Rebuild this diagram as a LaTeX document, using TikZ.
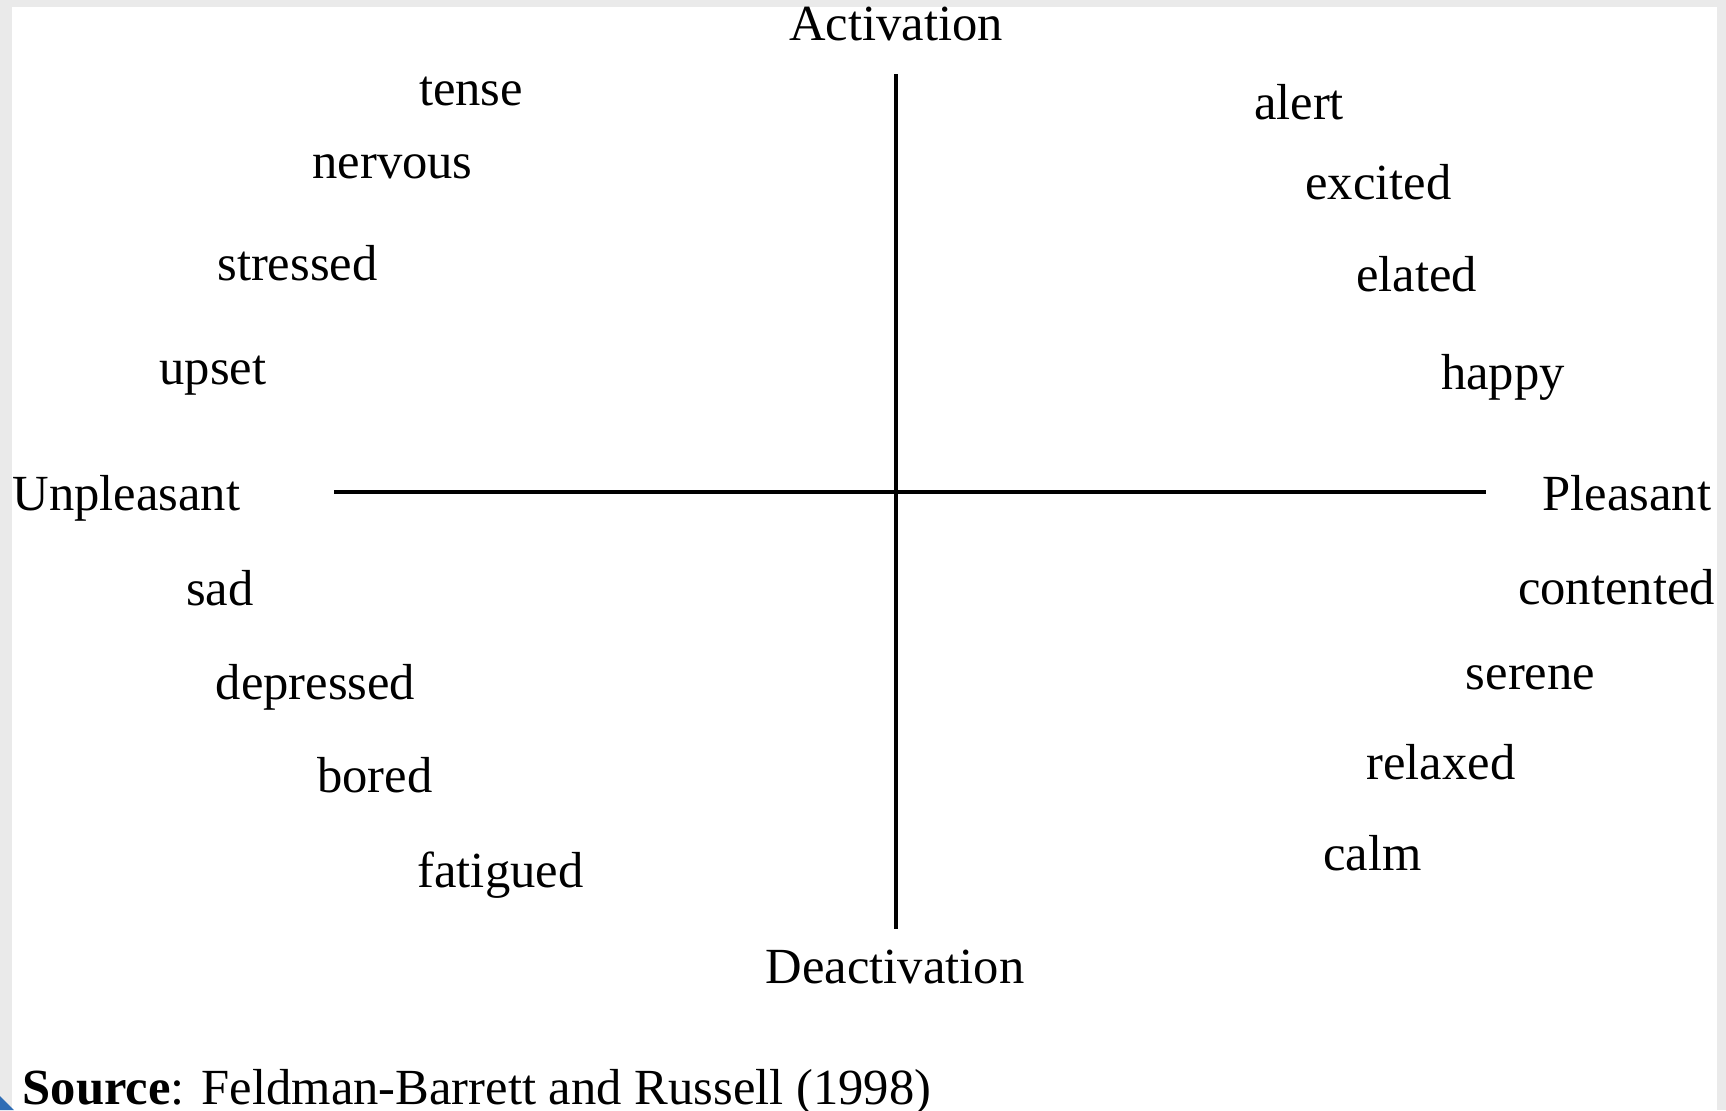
\documentclass[tikz,border=0pt]{standalone}
\usepackage{fontspec}
\setmainfont{Liberation Serif}
\usetikzlibrary{positioning}

\definecolor{framegray}{HTML}{EAEAEA}
\definecolor{cornerblue}{HTML}{2F6DB5}

\tikzset{
  word/.style={inner sep=0pt, anchor=base, font=\fontsize{14.4}{17}\selectfont},
  pole/.style={word},
  axis/.style={line width=1pt}
}

\begin{document}
\begin{tikzpicture}
% page and frame
\useasboundingbox (0,0) rectangle (17.26,11.10);
\fill[framegray] (0,0) rectangle (17.26,11.10);
\fill[white] (0.12,0) rectangle (17.17,11.03);
\fill[cornerblue] (0,0) -- (0,0.14) -- (0.14,0) -- cycle;

% Achsen
\coordinate (top) at (8.96,10.36);
\coordinate (bottom) at (8.96,1.81);
\coordinate (left) at (3.34,6.18);
\coordinate (right) at (14.86,6.18);
\draw[axis] (top) -- (bottom);
\draw[axis] (left) -- (right);

% Pole
\node[pole] (act) at (8.96,10.70) {Activation};
\node[pole] (deact) at (8.95,1.27) {Deactivation};
\node[pole] (unpl) at (1.265,6.00) {Unpleasant};
\node[pole] (pl) at (16.27,6.00) {Pleasant};

% links oben
\node[word] (tense) at (4.71,10.05) {tense};
\node[word] (nervous) at (3.925,9.32) {nervous};
\node[word] (stressed) at (2.975,8.30) {stressed};
\node[word] (upset) at (2.13,7.26) {upset};

% links unten
\node[word] (sad) at (2.20,5.05) {sad};
\node[word] (depressed) at (3.155,4.11) {depressed};
\node[word] (bored) at (3.75,3.18) {bored};
\node[word] (fatigued) at (5.005,2.23) {fatigued};

% rechts oben
\node[word] (alert) at (12.99,9.91) {alert};
\node[word] (excited) at (13.785,9.11) {excited};
\node[word] (elated) at (14.165,8.19) {elated};
\node[word] (happy) at (15.03,7.21) {happy};

% rechts unten
\node[word] (contented) at (16.165,5.06) {contented};
\node[word] (serene) at (15.305,4.21) {serene};
\node[word] (relaxed) at (14.41,3.31) {relaxed};
\node[word] (calm) at (13.725,2.40) {calm};

% Quelle
\node[word, anchor=base west] (source) at (0.22,0.06) {\textbf{Source}: Feldman-Barrett and Russell (1998)};
\end{tikzpicture}
\end{document}
